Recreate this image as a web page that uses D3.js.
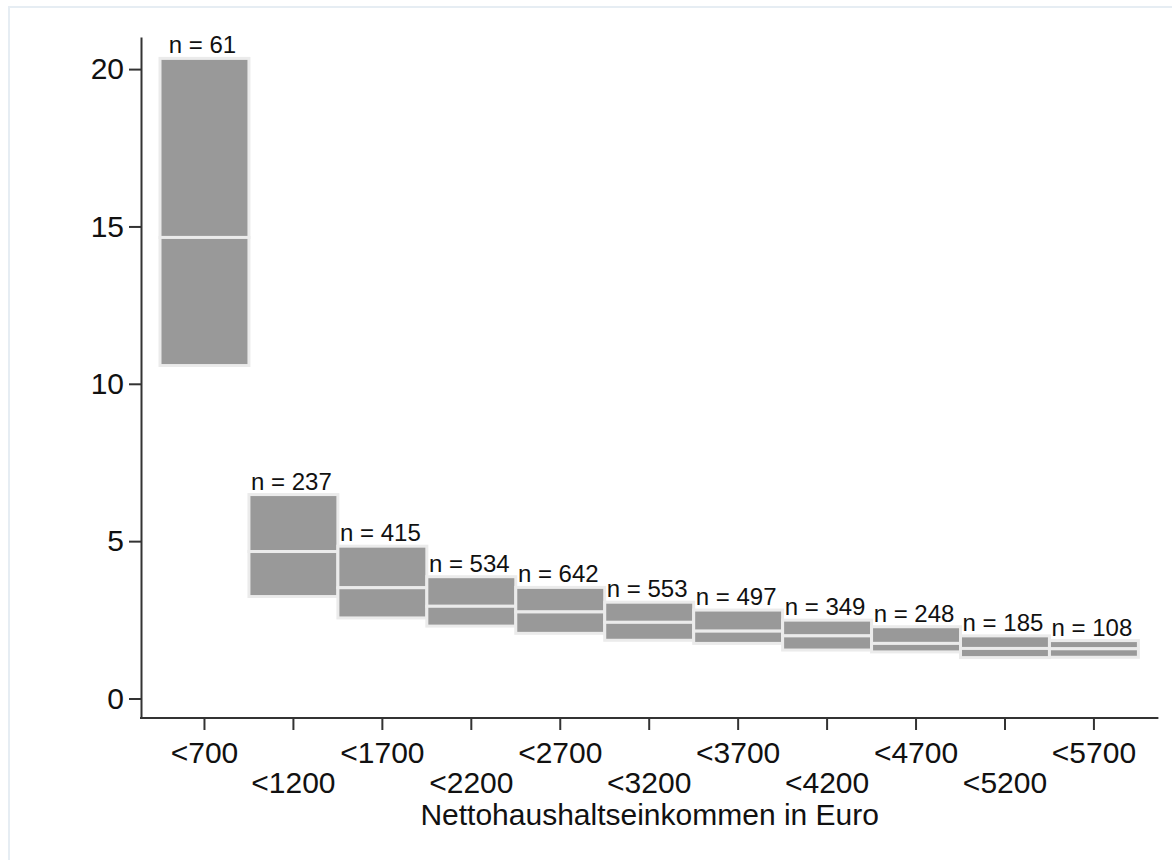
<!DOCTYPE html>
<html>
<head>
<meta charset="utf-8">
<script src="https://cdn.jsdelivr.net/npm/d3@7"></script>
<style>
  body { margin: 0; background: #fff; }
  text { font-family: "Liberation Sans", Arial, sans-serif; fill: #111; }
</style>
</head>
<body>
<svg id="chart"></svg>
<script>
const categories = ["<700", "<1200", "<1700", "<2200", "<2700", "<3200", "<3700", "<4200", "<4700", "<5200", "<5700"];
const nValues = [61, 237, 415, 534, 642, 553, 497, 349, 248, 185, 108];
const means = [14.65, 4.67, 3.52, 2.93, 2.75, 2.42, 2.14, 1.99, 1.75, 1.59, 1.58];
const upper = [20.34, 6.48, 4.84, 3.87, 3.53, 3.06, 2.81, 2.49, 2.28, 1.99, 1.84];
const lower = [10.58, 3.24, 2.56, 2.30, 2.07, 1.85, 1.75, 1.54, 1.48, 1.30, 1.31];
const yTicks = [0, 5, 10, 15, 20];
const xTitle = "Nettohaushaltseinkommen in Euro";

const width = 1172;
const height = 860;
const axisLeftX = 141;
const axisBottomY = 718;

const svg = d3.select("#chart").attr("width", width).attr("height", height);

// light outer frame (top and left edges visible)
svg.append("rect")
  .attr("x", 9).attr("y", 7)
  .attr("width", width + 20).attr("height", height + 20)
  .attr("fill", "none")
  .attr("stroke", "#e6edf3")
  .attr("stroke-width", 2);

const xScale = d3.scaleBand()
  .domain(categories)
  .range([160, 1138.4])
  .padding(0);

const yScale = d3.scaleLinear()
  .domain([-0.62, 21.02])
  .range([axisBottomY, 37]);

const data = categories.map((c, i) => ({
  cat: c, n: nValues[i], mean: means[i], hi: upper[i], lo: lower[i]
}));

// boxes: upper part (mean..hi) and lower part (lo..mean)
const boxes = svg.append("g");
const parts = data.flatMap(d => [
  { cat: d.cat, a: d.mean, b: d.hi },
  { cat: d.cat, a: d.lo, b: d.mean }
]);
boxes.selectAll("rect")
  .data(parts)
  .join("rect")
  .attr("x", d => xScale(d.cat))
  .attr("y", d => yScale(d.b))
  .attr("width", xScale.bandwidth())
  .attr("height", d => yScale(d.a) - yScale(d.b))
  .attr("fill", "#999999")
  .attr("stroke", "#ebebeb")
  .attr("stroke-width", 3);

// n labels
svg.append("g")
  .selectAll("text")
  .data(data)
  .join("text")
  .attr("x", d => xScale(d.cat) + xScale.bandwidth() / 2 - 2)
  .attr("y", d => yScale(d.hi) - 5)
  .attr("text-anchor", "middle")
  .attr("font-size", 24)
  .text(d => `n = ${d.n}`);

// y axis
const yAxis = svg.append("g")
  .attr("transform", `translate(${axisLeftX},0)`)
  .call(d3.axisLeft(yScale).tickValues(yTicks).tickSize(12).tickSizeOuter(0).tickPadding(5));
yAxis.select(".domain").attr("stroke", "#333").attr("stroke-width", 2);
yAxis.selectAll(".tick line").attr("stroke", "#333").attr("stroke-width", 2);
yAxis.selectAll(".tick text")
  .attr("font-size", 30)
  .attr("font-family", "Liberation Sans, Arial, sans-serif")
  .attr("fill", "#111");

// x axis
const xAxis = svg.append("g")
  .attr("transform", `translate(0,${axisBottomY})`)
  .call(d3.axisBottom(xScale).tickSize(12).tickSizeOuter(0).tickPadding(0));
xAxis.select(".domain").remove();
xAxis.append("line")
  .attr("x1", axisLeftX - 1).attr("x2", xScale.range()[1] + 20)
  .attr("stroke", "#333").attr("stroke-width", 2);
xAxis.selectAll(".tick line").attr("stroke", "#333").attr("stroke-width", 2);
xAxis.selectAll(".tick text")
  .attr("font-size", 30)
  .attr("font-family", "Liberation Sans, Arial, sans-serif")
  .attr("fill", "#111")
  .attr("dy", null)
  .attr("y", (d, i) => (i % 2 === 0 ? 45 : 75));

// x title
svg.append("text")
  .attr("x", (axisLeftX + xScale.range()[1] + 20) / 2)
  .attr("y", 825)
  .attr("text-anchor", "middle")
  .attr("font-size", 30)
  .text(xTitle);
</script>
</body>
</html>
